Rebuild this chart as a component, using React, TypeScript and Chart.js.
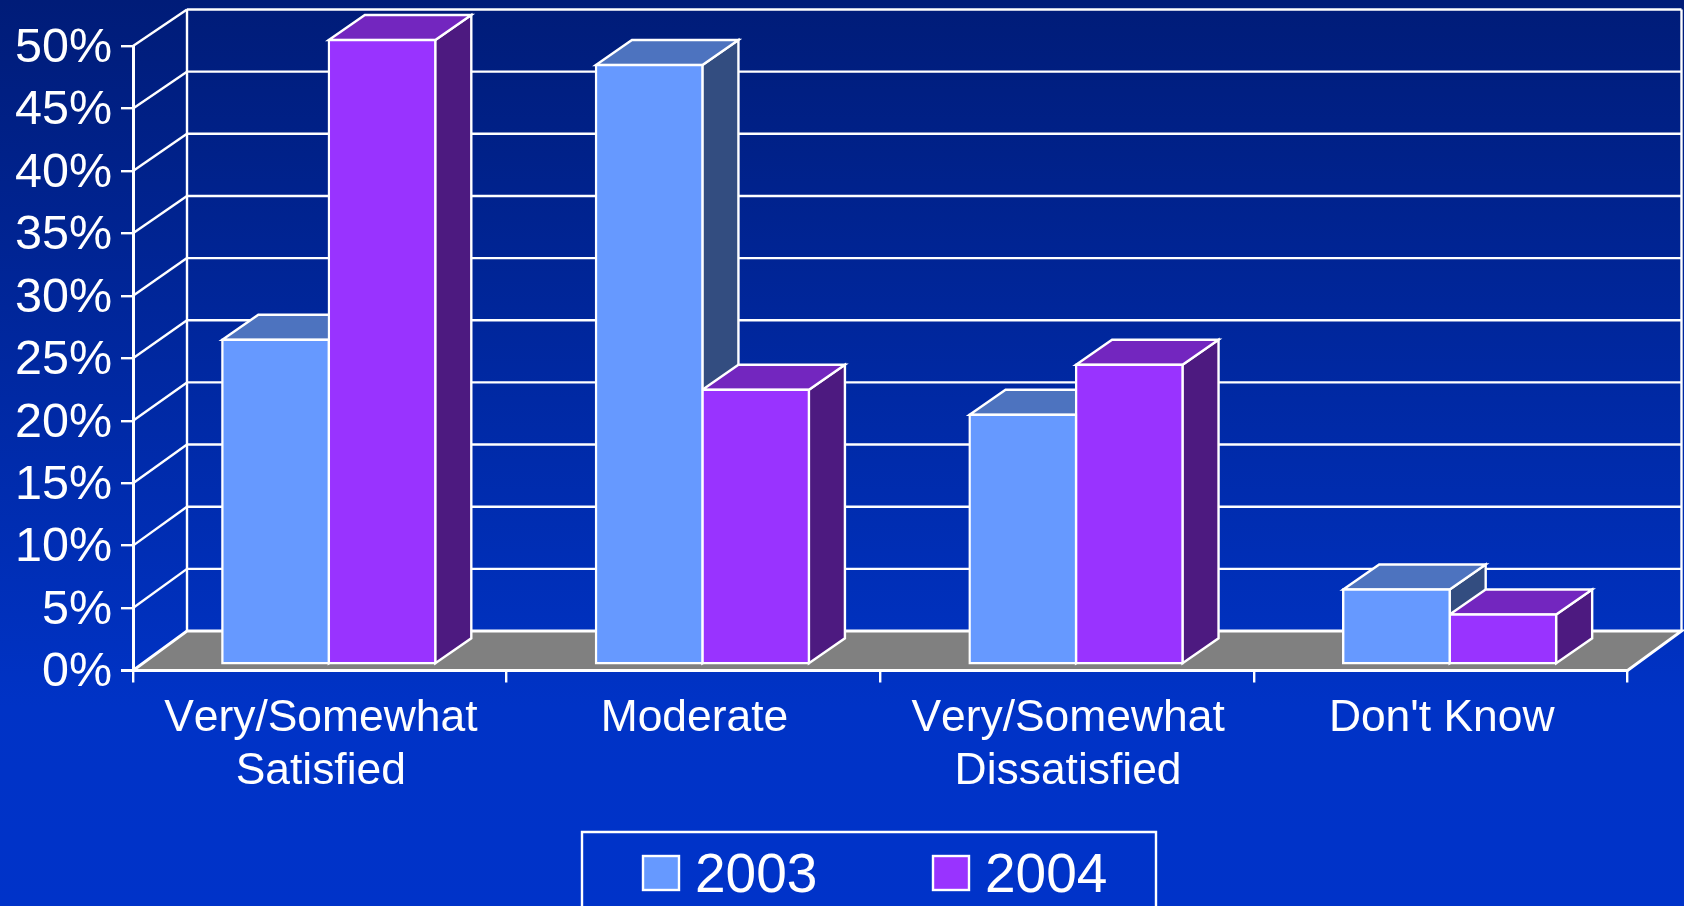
import React, { useEffect, useRef } from "react";
import { Chart, registerables } from "chart.js";

Chart.register(...registerables);

const categories = [["Very/Somewhat", "Satisfied"], "Moderate", ["Very/Somewhat", "Dissatisfied"], "Don't Know"];
const series2003 = [26, 48, 20, 6];
const series2004 = [50, 22, 24, 4];
const seriesLabels = ["2003", "2004"];

const FONT = '"Liberation Sans", Arial, sans-serif';
const WHITE = "#FFFFFF";
const FRONT = ["#6699FF", "#9933FF"];
const TOP = ["#4D73BF", "#7326BF"];
const SIDE = ["#334D80", "#4D1A80"];
const FLOOR = "#808080";

// Projection of the box: how far the back wall sits from the front plane,
// where the bars stand on the floor, and how deep each bar is.
const WALL_DX = 54;
const WALL_DY_BOTTOM = 39.5;
const WALL_DY_TOP = 36.5;
const BAR_SHIFT_X = 9;
const BAR_SHIFT_Y = -6;
const BAR_DX = 36;
const BAR_DY = 25;
const EDGE = 2.4;

function poly(ctx: CanvasRenderingContext2D, pts: number[][], fill: string | null, stroke: string, lw = EDGE) {
  ctx.beginPath();
  pts.forEach((p, i) => (i ? ctx.lineTo(p[0], p[1]) : ctx.moveTo(p[0], p[1])));
  ctx.closePath();
  if (fill) {
    ctx.fillStyle = fill;
    ctx.fill();
  }
  ctx.lineWidth = lw;
  ctx.strokeStyle = stroke;
  ctx.lineJoin = "miter";
  ctx.stroke();
}

function line(ctx: CanvasRenderingContext2D, x1: number, y1: number, x2: number, y2: number, lw = EDGE) {
  ctx.beginPath();
  ctx.moveTo(x1, y1);
  ctx.lineTo(x2, y2);
  ctx.lineWidth = lw;
  ctx.strokeStyle = WHITE;
  ctx.stroke();
}

const backgroundPlugin = {
  id: "slideBackground",
  beforeDraw(chart: any) {
    const { ctx, width, height } = chart;
    // Labels are set without pair kerning, as in slide software.
    ctx.fontKerning = "none";
    const g = ctx.createLinearGradient(0, 0, 0, height);
    g.addColorStop(0, "#001C78");
    g.addColorStop(0.78, "#0033C6");
    g.addColorStop(1, "#0033C9");
    ctx.save();
    ctx.fillStyle = g;
    ctx.fillRect(0, 0, width, height);
    ctx.restore();
  },
};

// Back wall, floor and the receding faces of each bar; the front faces are the
// library's own bar elements, translated onto the floor.
const box3dPlugin = {
  id: "box3d",
  beforeDatasetsDraw(chart: any) {
    const { ctx, chartArea: area, scales } = chart;
    const y = scales.y;
    const ticks: number[] = y.ticks.map((t: any) => t.value);
    const backDy = (v: number) => WALL_DY_BOTTOM + ((WALL_DY_TOP - WALL_DY_BOTTOM) * v) / y.max;
    const y0 = y.getPixelForValue(0);
    const bl = area.left + WALL_DX;
    const br = area.right + WALL_DX;

    ctx.save();
    ctx.lineCap = "butt";
    ticks.forEach((v) => {
      const py = y.getPixelForValue(v);
      const by = py - backDy(v);
      if (v > 0) {
        line(ctx, bl, by, br, by);
        line(ctx, area.left, py, bl, by);
      }
    });
    const topY = y.getPixelForValue(y.max) - backDy(y.max);
    const floorY = y0 - backDy(0);
    line(ctx, bl, topY, bl, floorY);
    line(ctx, br, topY, br, floorY);
    poly(ctx, [[area.left, y0], [bl, floorY], [br, floorY], [area.right, y0]], FLOOR, WHITE, 2.8);

    const count = chart.data.labels.length;
    for (let c = 0; c < count; c++) {
      chart.data.datasets.forEach((_: any, d: number) => {
        const bar = chart.getDatasetMeta(d).data[c];
        const l = bar.x - bar.width / 2 + BAR_SHIFT_X;
        const r = bar.x + bar.width / 2 + BAR_SHIFT_X;
        const t = bar.y + BAR_SHIFT_Y;
        const b = bar.base + BAR_SHIFT_Y;
        poly(ctx, [[r, t], [r + BAR_DX, t - BAR_DY], [r + BAR_DX, b - BAR_DY], [r, b]], SIDE[d], WHITE);
        poly(ctx, [[l, t], [l + BAR_DX, t - BAR_DY], [r + BAR_DX, t - BAR_DY], [r, t]], TOP[d], WHITE);
      });
    }
    ctx.restore();
    ctx.save();
    ctx.translate(BAR_SHIFT_X, BAR_SHIFT_Y);
  },
  afterDatasetsDraw(chart: any) {
    chart.ctx.restore();
    const { ctx, chartArea: area } = chart;
    ctx.save();
    line(ctx, area.left - 12, area.bottom, area.right, area.bottom, 2.8);
    ctx.restore();
  },
};

const legendPlugin = {
  id: "boxedLegend",
  afterDraw(chart: any) {
    const { ctx, height } = chart;
    const swatchX = [643, 933];
    const textX = [695, 985];
    ctx.save();
    ctx.strokeStyle = WHITE;
    ctx.lineWidth = 2.4;
    ctx.beginPath();
    ctx.moveTo(582, height + 4);
    ctx.lineTo(582, 832);
    ctx.lineTo(1156, 832);
    ctx.lineTo(1156, height + 4);
    ctx.stroke();
    chart.data.datasets.forEach((ds: any, i: number) => {
      ctx.fillStyle = ds.backgroundColor;
      ctx.fillRect(swatchX[i], 856, 36, 34);
      ctx.strokeRect(swatchX[i], 856, 36, 34);
      ctx.fillStyle = WHITE;
      ctx.font = `55px ${FONT}`;
      ctx.textAlign = "left";
      ctx.textBaseline = "alphabetic";
      ctx.fillText(ds.label, textX[i], 892);
    });
    ctx.restore();
  },
};

export default function App() {
  const ref = useRef<HTMLCanvasElement | null>(null);

  useEffect(() => {
    if (!ref.current) return;
    document.body.style.margin = "0";
    const common = {
      borderColor: WHITE,
      borderWidth: 2.4,
      borderSkipped: false,
      inflateAmount: 1.2,
      clip: false as const,
    };
    const chart = new Chart(ref.current, {
      type: "bar",
      data: {
        labels: categories as any,
        datasets: [
          { label: seriesLabels[0], data: series2003, backgroundColor: FRONT[0], ...common },
          { label: seriesLabels[1], data: series2004, backgroundColor: FRONT[1], ...common },
        ],
      },
      plugins: [backgroundPlugin, box3dPlugin, legendPlugin],
      options: {
        responsive: false,
        animation: false,
        layout: { padding: { top: 46, right: 56.5, left: 0, bottom: 0 } },
        datasets: { bar: { categoryPercentage: 0.57, barPercentage: 1 } },
        plugins: { legend: { display: false }, tooltip: { enabled: false } },
        scales: {
          x: {
            afterFit: (s: any) => {
              s.height = 235.5;
            },
            grid: { drawOnChartArea: false, color: WHITE, lineWidth: 2.4, tickLength: 12 },
            border: { color: WHITE, width: 2.4 },
            ticks: {
              color: WHITE,
              font: { family: FONT, size: 44.4, lineHeight: 1.19 },
              padding: 10,
              labelOffset: 1,
              maxRotation: 0,
              autoSkip: false,
            },
          },
          y: {
            min: 0,
            max: 50,
            afterFit: (s: any) => {
              s.width = 133;
            },
            grid: { drawOnChartArea: false, color: WHITE, lineWidth: 2.4, tickLength: 12 },
            border: { color: WHITE, width: 3 },
            ticks: {
              stepSize: 5,
              color: WHITE,
              font: { family: FONT, size: 48.5 },
              padding: 9,
              labelOffset: 2.5,
              callback: (v: any) => `${v}%`,
            },
          },
        },
      } as any,
    });
    return () => chart.destroy();
  }, []);

  return <canvas ref={ref} width={1684} height={906} style={{ display: "block" }} />;
}
